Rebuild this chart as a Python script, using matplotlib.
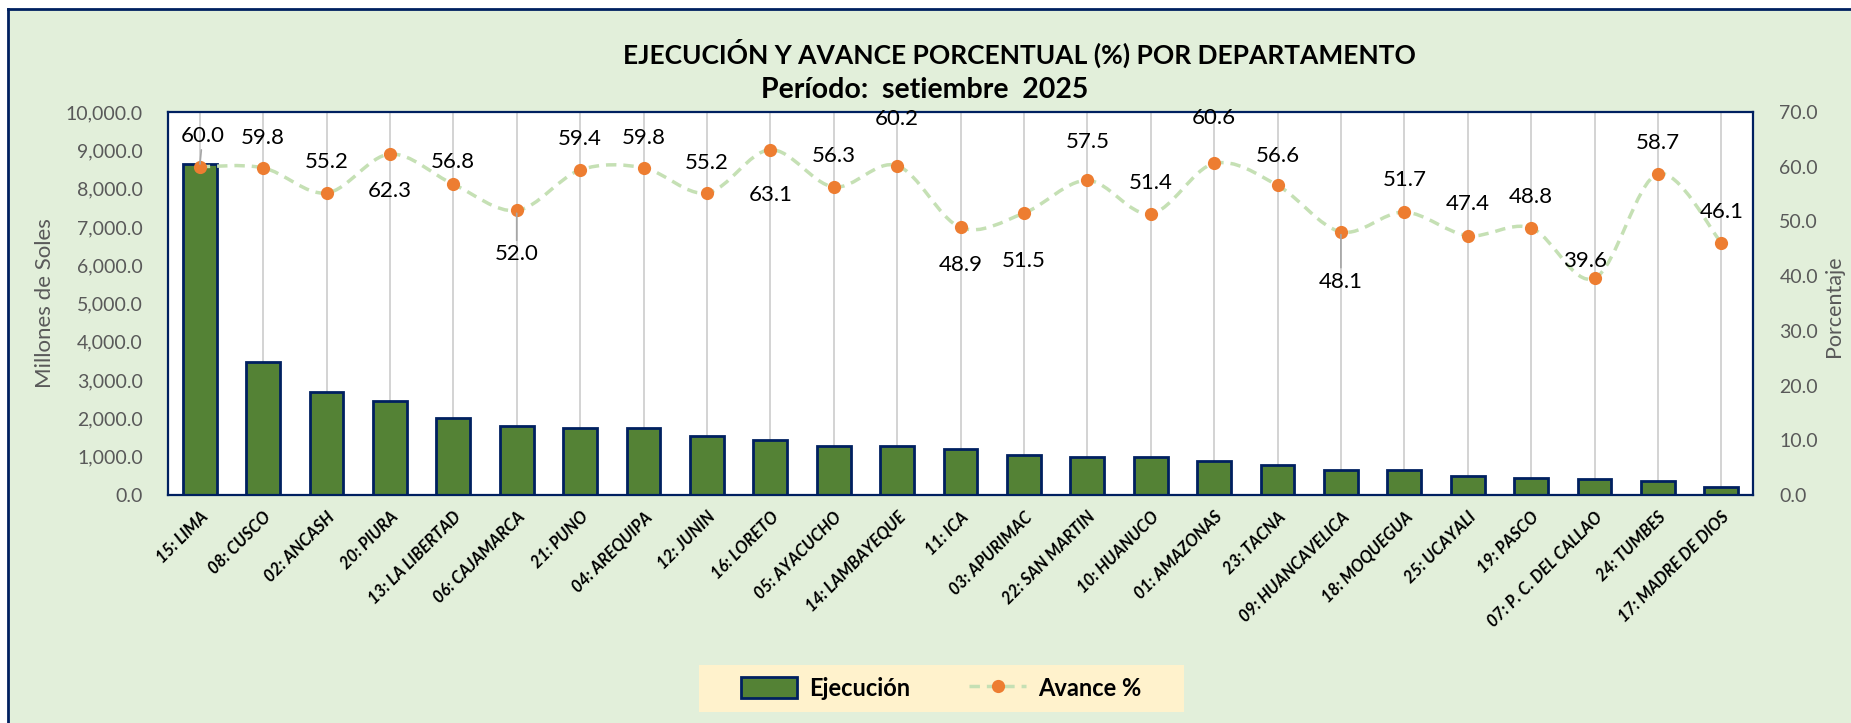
import numpy as np
import matplotlib
matplotlib.use("Agg")
import matplotlib.pyplot as plt
from matplotlib.patches import Rectangle, Patch
from matplotlib.lines import Line2D
from matplotlib.path import Path
from matplotlib.patches import PathPatch
from matplotlib.ticker import FuncFormatter

plt.rcParams['font.family'] = ['Lato', 'DejaVu Sans']

# ---------------- data ----------------
departamentos = ['15: LIMA', '08: CUSCO', '02: ANCASH', '20: PIURA', '13: LA LIBERTAD',
                 '06: CAJAMARCA', '21: PUNO', '04: AREQUIPA', '12: JUNIN', '16: LORETO',
                 '05: AYACUCHO', '14: LAMBAYEQUE', '11: ICA', '03: APURIMAC', '22: SAN MARTIN',
                 '10: HUANUCO', '01: AMAZONAS', '23: TACNA', '09: HUANCAVELICA', '18: MOQUEGUA',
                 '25: UCAYALI', '19: PASCO', '07: P. C. DEL CALLAO', '24: TUMBES', '17: MADRE DE DIOS']

ejecucion = [8640, 3460, 2700, 2450, 2000,
             1800, 1740, 1740, 1550, 1435,
             1290, 1290, 1190, 1045, 985,
             985, 885, 775, 665, 665,
             505, 455, 410, 365, 210]

avance = [60.0, 59.8, 55.2, 62.3, 56.8,
          52.0, 59.4, 59.8, 55.2, 63.1,
          56.3, 60.2, 48.9, 51.5, 57.5,
          51.4, 60.6, 56.6, 48.1, 51.7,
          47.4, 48.8, 39.6, 58.7, 46.1]

# label offsets (pixels, dx, dy) relative to each point
label_dx = [3, 0, 0, 0, 0, 0, 0, 0, 0, 0, 0, 0, 0, 0, 0, 0, 0, 0, 0, 0, 0, 0, -9, 0, 0]
label_dy = [31, 30, 31, -37, 22, -44, 31, 30, 30, -45, 31, 47, -38, -48, 38,
            31, 45, 29, -50, 32, 32, 31, 17, 31, 31]
leader = [0, 5, 18]

W, H = 1851, 723
fig = plt.figure(figsize=(W / 100, H / 100), dpi=100, facecolor='white')

# chart area background with the navy border on top/left
fig.patches.append(Rectangle((8 / W, 0), 1, 1 - 9 / H, transform=fig.transFigure,
                             facecolor='#E2EFDA', edgecolor='none', zorder=-10))
fig.add_artist(Line2D([8 / W, 8 / W], [0, 1 - 9 / H], color='#002060', lw=2, transform=fig.transFigure))
fig.add_artist(Line2D([8 / W, 1], [1 - 9 / H, 1 - 9 / H], color='#002060', lw=2, transform=fig.transFigure))

left, right, top, bottom = 168, 1753, 112, 495
ax = fig.add_axes([left / W, 1 - bottom / H, (right - left) / W, (bottom - top) / H])
ax.set_facecolor('white')

x = np.arange(len(departamentos))
ax.bar(x, ejecucion, width=0.53, color='#548235', edgecolor='#002060', linewidth=2, zorder=2)
ax.set_xlim(-0.5, len(x) - 0.5)
ax.set_ylim(0, 10000)
ax.set_yticks(np.arange(0, 10001, 1000))
ax.yaxis.set_major_formatter(FuncFormatter(lambda v, p: f'{v:,.1f}'))
ax.tick_params(axis='y', length=0, labelsize=14, labelcolor='#595959', pad=18)
ax.set_xticks(x)
ax.set_xticklabels(departamentos, rotation=45, ha='right', rotation_mode='anchor',
                   fontsize=12, fontweight='bold', style='italic')
ax.tick_params(axis='x', length=0, pad=10)
ax.grid(axis='x', color='#CCCCCC', lw=1.2, zorder=0)
ax.set_axisbelow(True)
for s in ax.spines.values():
    s.set_color('#002060')
    s.set_linewidth(1.6)

ax2 = ax.twinx()
ax2.set_ylim(0, 70)
ax2.set_yticks(np.arange(0, 71, 10))
ax2.yaxis.set_major_formatter(FuncFormatter(lambda v, p: f'{v:.1f}'))
ax2.tick_params(axis='y', length=0, labelsize=14, labelcolor='#595959', pad=19)
for s in ax2.spines.values():
    s.set_visible(False)

# smoothed line through the points (Catmull-Rom as cubic Bezier)
pts = np.column_stack([x, avance]).astype(float)
verts = [pts[0]]
codes = [Path.MOVETO]
for i in range(len(pts) - 1):
    p0 = pts[i - 1] if i > 0 else pts[i]
    p1, p2 = pts[i], pts[i + 1]
    p3 = pts[i + 2] if i + 2 < len(pts) else pts[i + 1]
    verts += [p1 + (p2 - p0) / 6, p2 - (p3 - p1) / 6, p2]
    codes += [Path.CURVE4] * 3
ax2.add_patch(PathPatch(Path(verts, codes), facecolor='none', edgecolor='#C5E0B4',
                        lw=2.5, linestyle=(0, (3, 2)), zorder=3))
ax2.plot(x, avance, 'o', color='#ED7D31', markersize=9.5, markeredgewidth=0, zorder=4)

for i, v in enumerate(avance):
    dx, dy = label_dx[i] * 0.72, label_dy[i] * 0.72
    arrow = dict(arrowstyle='-', color='#A6A6A6', lw=1.2, shrinkA=1, shrinkB=2) if i in leader else None
    ax2.annotate(f'{v:.1f}', (x[i], v), xytext=(dx, dy), textcoords='offset points',
                 ha='center', va='center', fontsize=16, color='black',
                 arrowprops=arrow, zorder=5)

fig.text(45 / W, 1 - 303 / H, 'Millones de Soles', rotation=90, ha='center', va='center',
         fontsize=16, color='#595959')
fig.text(1834 / W, 1 - 306 / H, 'Porcentaje', rotation=90, ha='center', va='center',
         fontsize=15.5, color='#595959')

fig.text(1019 / W, 1 - 53 / H, 'EJECUCIÓN Y AVANCE PORCENTUAL (%) POR DEPARTAMENTO',
         ha='center', va='center', fontsize=19, fontweight='bold')
fig.text(925 / W, 1 - 90 / H, 'Período:  setiembre  2025',
         ha='center', va='center', fontsize=20.5, fontweight='bold')

# legend
fig.patches.append(Rectangle((699 / W, 1 - 712 / H), (1184 - 699) / W, 47 / H,
                             transform=fig.transFigure, facecolor='#FFF2CC', edgecolor='none', zorder=-5))
handles = [Patch(facecolor='#548235', edgecolor='#002060', linewidth=2, label='Ejecución'),
           Line2D([0], [0], color='#C5E0B4', lw=2.5, linestyle=(0, (3, 2)), marker='o',
                  markerfacecolor='#ED7D31', markeredgewidth=0, markersize=9.5, label='Avance %')]
fig.legend(handles=handles, loc='center', bbox_to_anchor=(941 / W, 1 - 688 / H), ncol=2,
           frameon=False, prop={'size': 17, 'weight': 'bold'}, handlelength=2.4,
           handleheight=1.0, columnspacing=2.5, handletextpad=0.5)

fig.savefig('out.png', dpi=100, facecolor=fig.get_facecolor())
